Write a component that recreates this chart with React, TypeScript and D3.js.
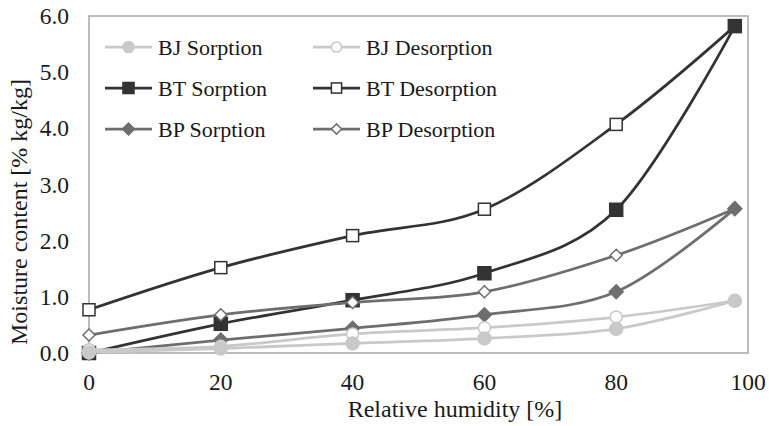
import React from "react";
import * as d3 from "d3";

const humidity = [0, 20, 40, 60, 80, 98];
const seriesNames = ["BJ Sorption", "BJ Desorption", "BT Sorption", "BT Desorption", "BP Sorption", "BP Desorption"];
const bjSorption = [0.01, 0.08, 0.17, 0.26, 0.43, 0.93];
const bjDesorption = [0.06, 0.12, 0.34, 0.45, 0.64, 0.93];
const btSorption = [0.0, 0.52, 0.94, 1.42, 2.55, 5.82];
const btDesorption = [0.77, 1.52, 2.09, 2.56, 4.07, 5.82];
const bpSorption = [0.0, 0.23, 0.44, 0.68, 1.09, 2.57];
const bpDesorption = [0.32, 0.68, 0.9, 1.09, 1.74, 2.57];
const xTicks = [0, 20, 40, 60, 80, 100];
const yTicks = [0, 1, 2, 3, 4, 5, 6];

const W = 769, H = 426;
const L = 89, R = 748, T = 16, B = 353;
const FONT = "'Liberation Serif', 'Times New Roman', serif";

type Style = { color: string; shape: "circle" | "square" | "diamond"; filled: boolean };
const styles: Style[] = [
  { color: "#c9c9c9", shape: "circle", filled: true },
  { color: "#c9c9c9", shape: "circle", filled: false },
  { color: "#333333", shape: "square", filled: true },
  { color: "#333333", shape: "square", filled: false },
  { color: "#6e6e6e", shape: "diamond", filled: true },
  { color: "#6e6e6e", shape: "diamond", filled: false },
];
const allValues = [bjSorption, bjDesorption, btSorption, btDesorption, bpSorption, bpDesorption];
const drawOrder = [3, 2, 5, 4, 1, 0];

function Marker({ x, y, s, scale = 1 }: { x: number; y: number; s: Style; scale?: number }) {
  const fill = s.filled ? s.color : "#fff";
  if (s.shape === "circle") {
    const r = (s.filled ? 6.5 : 6) * scale;
    return <circle cx={x} cy={y} r={r} fill={fill} stroke={s.color} strokeWidth={1.5} />;
  }
  if (s.shape === "square") {
    const h = (s.filled ? 6.5 : 6) * scale;
    return <rect x={x - h} y={y - h} width={2 * h} height={2 * h} fill={fill} stroke={s.color} strokeWidth={1.5} />;
  }
  const d = (s.filled ? 7 : 6) * scale;
  return (
    <path d={`M${x},${y - d}L${x + d},${y}L${x},${y + d}L${x - d},${y}Z`} fill={fill} stroke={s.color} strokeWidth={1.5} />
  );
}

export default function App() {
  const x = d3.scaleLinear().domain([0, 100]).range([L, R]);
  const y = d3.scaleLinear().domain([0, 6]).range([B, T]);
  const line = d3
    .line<number>()
    .x((_, i) => x(humidity[i]))
    .y((v) => y(v))
    .curve(d3.curveCardinal.tension(0));

  const legendRows = [47, 88, 129];
  const legendCols = [105, 313];

  return (
    <svg width={W} height={H} style={{ position: "absolute", left: 0, top: 0, background: "#fff" }}>
      <rect x={0} y={0} width={W} height={H} fill="#fff" />
      <rect x={L} y={T} width={R - L} height={B - T} fill="none" stroke="#a6a6a6" strokeWidth={1.5} />
      {yTicks.map((t) => (
        <text key={t} x={L - 20} y={y(t) + 8} textAnchor="end" fontFamily={FONT} fontSize={23.5} fill="#1a1a1a">
          {d3.format(".1f")(t)}
        </text>
      ))}
      {xTicks.map((t) => (
        <text key={t} x={x(t)} y={390} textAnchor="middle" fontFamily={FONT} fontSize={23.5} fill="#1a1a1a">
          {t}
        </text>
      ))}
      <text x={455} y={417} textAnchor="middle" fontFamily={FONT} fontSize={24} fill="#1a1a1a">
        Relative humidity [%]
      </text>
      <text transform="translate(27,212) rotate(-90)" textAnchor="middle" fontFamily={FONT} fontSize={24} fill="#1a1a1a">
        Moisture content [% kg/kg]
      </text>
      {drawOrder.map((si) => (
        <g key={si}>
          <path d={line(allValues[si]) || ""} fill="none" stroke={styles[si].color} strokeWidth={2.75} />
          {allValues[si].map((v, i) => (
            <Marker key={i} x={x(humidity[i])} y={y(v)} s={styles[si]} />
          ))}
        </g>
      ))}
      {seriesNames.map((name, si) => {
        const row = Math.floor(si / 2);
        const col = si % 2;
        const lx = legendCols[col];
        const ly = legendRows[row];
        return (
          <g key={name}>
            <line x1={lx} x2={lx + 47} y1={ly} y2={ly} stroke={styles[si].color} strokeWidth={2.75} />
            <Marker x={lx + 23.5} y={ly} s={styles[si]} scale={0.85} />
            <text x={lx + 53} y={ly + 7.5} fontFamily={FONT} fontSize={22} fill="#1a1a1a">
              {name}
            </text>
          </g>
        );
      })}
    </svg>
  );
}
